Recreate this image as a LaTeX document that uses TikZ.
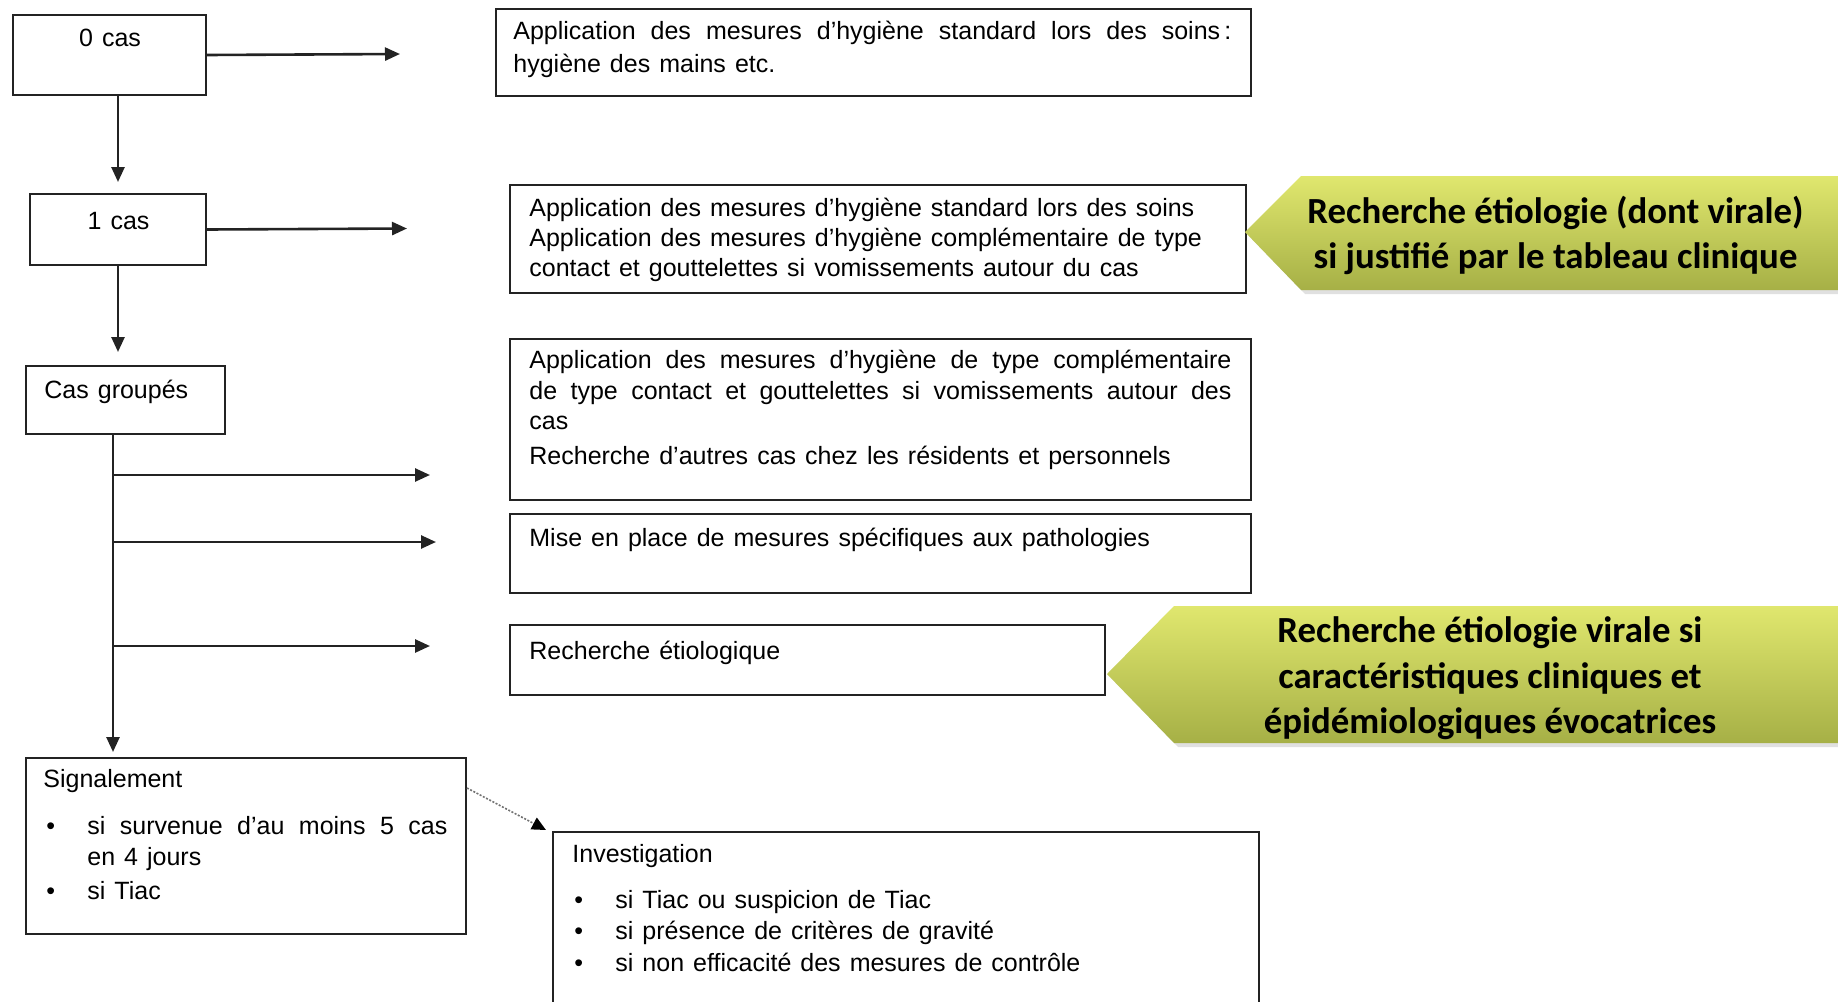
\documentclass[tikz,border=0pt]{standalone}
\usepackage{fontspec}
\setmainfont{Liberation Sans}[WordSpace=1.3]
\newfontfamily\calfont{Carlito}
\usetikzlibrary{arrows.meta,calc}
\definecolor{calTop}{RGB}{224,231,110}
\definecolor{calBot}{RGB}{166,176,70}
\definecolor{lineC}{RGB}{35,35,35}
\begin{document}
\begin{tikzpicture}[x=0.5pt,y=-0.5pt,
  box/.style={draw=lineC, line width=1pt, inner sep=0pt, anchor=north west},
  ghost/.style={inner sep=0pt, anchor=north west},
  txt/.style={inner sep=0pt, anchor=base west, align=left, font=\fontsize{12.5}{15}\selectfont},
  arr/.style={draw=lineC, line width=1.3pt, -{Triangle[length=7.5pt,width=6.5pt]}},
  dotarr/.style={draw=black!55, line width=0.8pt, dash pattern=on 1pt off 0.8pt, -{Triangle[length=7pt,width=6.5pt,color=black]}},
  caltxt/.style={inner sep=0pt, anchor=base, align=center, font=\calfont\bfseries\fontsize{18.4}{22.5}\selectfont},
  calshape/.style={top color=calTop, bottom color=calBot}]
\useasboundingbox (0,0) rectangle (1838,1002);
\fill[white] (0,0) rectangle (1838,1002);

% left column
\node[box, minimum width=96.5pt, minimum height=40pt] (c0) at (12,14) {};
\node[txt, anchor=base] (t0) at (110,46.5) {0 cas};
\node[box, minimum width=88pt, minimum height=35.5pt] (c1) at (29,193) {};
\node[txt, anchor=base] (t1) at (118.5,229) {1 cas};
\node[box, minimum width=99.5pt, minimum height=34pt] (cg) at (25,365) {};
\node[txt] (tg) at (44,398) {Cas groupés};

% right boxes (multi-line texts are placed by the baseline of their last line)
\node[box, minimum width=377.5pt, minimum height=43.5pt] (a1) at (495,8) {};
\node[txt, font=\fontsize{12.5}{16.25}\selectfont] (ta1) at (513,72)
  {\makebox[359pt][s]{Application des mesures d’hygiène standard lors des soins\,:}\\hygiène des mains etc.};

\node[box, minimum width=368pt, minimum height=54pt] (a2) at (509,184) {};
\node[txt, font=\fontsize{12.5}{14.85}\selectfont] (ta2) at (529,276)
  {Application des mesures d’hygiène standard lors des soins\\
   Application des mesures d’hygiène complémentaire de type\\
   contact et gouttelettes si vomissements autour du cas};

\node[box, minimum width=370.5pt, minimum height=80.5pt] (a3) at (509,338) {};
\node[txt, font=\fontsize{12.5}{15.25}\selectfont] (ta3) at (529,464)
  {\makebox[351pt][s]{Application des mesures d’hygiène de type complémentaire}\\
   \makebox[351pt][s]{de type contact et gouttelettes si vomissements autour des}\\
   cas\\[2pt]
   Recherche d’autres cas chez les résidents et personnels};

\node[box, minimum width=370.5pt, minimum height=39.5pt] (a4) at (509,513) {};
\node[txt] (ta4) at (529,546) {Mise en place de mesures spécifiques aux pathologies};

\node[box, minimum width=297.5pt, minimum height=35pt] (a5) at (509,624) {};
\node[txt] (ta5) at (529,659.6) {Recherche étiologique};

% Signalement
\node[box, minimum width=220pt, minimum height=88pt] (sig) at (25,757) {};
\node[txt] (tsig) at (43,787) {Signalement};
\node[txt, font=\fontsize{12.5}{15.25}\selectfont] (lsig) at (46,899.5)
  {\makebox[20.5pt][l]{•}\makebox[180pt][s]{si survenue d’au moins 5 cas}\\
   \hspace*{20.5pt}en 4 jours\\[2pt]
   \makebox[20.5pt][l]{•}si Tiac};

% Investigation (open at the bottom)
\node[ghost, minimum width=352.5pt, minimum height=85pt] (inv) at (553,832) {};
\draw[draw=lineC, line width=1pt] (inv.south west) |- (inv.north east) -- (inv.south east);
\node[txt] (tinv) at (572,862) {Investigation};
\node[txt, font=\fontsize{12.5}{15.75}\selectfont] (linv) at (574,971)
  {\makebox[20.5pt][l]{•}si Tiac ou suspicion de Tiac\\
   \makebox[20.5pt][l]{•}si présence de critères de gravité\\
   \makebox[20.5pt][l]{•}si non efficacité des mesures de contrôle};

% callouts
\fill[black, opacity=0.12] (1249,236) -- (1305,180) -- (1838,180) -- (1838,294) -- (1305,294) -- cycle;
\shade[calshape] (1245,232) -- (1301,176) -- (1838,176) -- (1838,290) -- (1301,290) -- cycle;
\node[caltxt] (cal1) at (1555.5,268) {Recherche étiologie (dont virale)\\si justifié par le tableau clinique};

\fill[black, opacity=0.12] (1111,678) -- (1178,610) -- (1838,610) -- (1838,747) -- (1178,747) -- cycle;
\shade[calshape] (1107,674) -- (1174,606) -- (1838,606) -- (1838,743) -- (1174,743) -- cycle;
\node[caltxt, font=\calfont\bfseries\fontsize{18.4}{22.75}\selectfont] (cal2) at (1490,733.5)
  {Recherche étiologie virale si\\caractéristiques cliniques et\\épidémiologiques évocatrices};

% connectors
\coordinate (e0) at (400,54);
\coordinate (e1) at (407,228.5);
\draw[arr] (c0.east) -- (e0);
\draw[arr] (c1.east) -- (e1);
\draw[arr, shorten >=5.5pt] (c1.north |- c0.south) -- (c1.north);
\draw[arr, shorten >=6.5pt] (c1.south) -- (c1.south |- cg.north);

\coordinate (trunk) at ($(cg.south west)+(88,0)$);
\draw[arr, shorten >=2.5pt] (trunk) -- (trunk |- sig.north);
\coordinate (b1) at (430,475);
\coordinate (b2) at (436,542);
\coordinate (b3) at (430,646);
\draw[arr] (trunk |- b1) -- (b1);
\draw[arr] (trunk |- b2) -- (b2);
\draw[arr] (trunk |- b3) -- (b3);

\coordinate (dstart) at ($(sig.north east)+(0,31)$);
\coordinate (dend) at ($(inv.north west)+(-7,-2)$);
\draw[dotarr] (dstart) -- (dend);
\end{tikzpicture}
\end{document}
